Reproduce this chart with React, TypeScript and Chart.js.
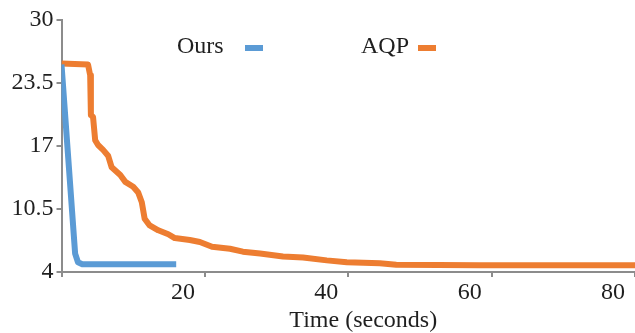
import { useEffect, useRef } from 'react';
import { Chart, registerables } from 'chart.js';

Chart.register(...registerables);

const SERIES_NAMES = ['Ours', 'AQP'];
const SERIES_COLORS = ['#5B9BD5', '#ED7D31'];

const X_TICKS = [0, 20, 40, 60, 80];
const Y_TICKS = [4, 10.5, 17, 23.5, 30];
const X_TITLE = 'Time (seconds)';

const OURS_X = [0, 1.9, 2.3, 2.9, 16.0];
const OURS_Y = [25.4, 5.9, 5.0, 4.8, 4.8];

const AQP_X = [0, 3.7, 4.0, 4.1, 4.4, 4.7, 5.1, 5.8, 6.5, 7.0, 8.2, 8.9, 10.0, 10.7, 11.2, 11.6, 12.3, 13.5, 14.9, 15.8, 17.9, 19.3, 21.0, 23.5, 25.3, 27.7, 30.9, 33.7, 37.0, 39.8, 44.4, 46.7, 58.3, 80];
const AQP_Y = [25.5, 25.4, 24.3, 20.2, 20.0, 17.6, 17.1, 16.6, 16.0, 14.8, 14.0, 13.3, 12.8, 12.2, 11.2, 9.5, 8.8, 8.3, 7.9, 7.5, 7.3, 7.1, 6.6, 6.4, 6.1, 5.9, 5.6, 5.5, 5.2, 5.0, 4.9, 4.75, 4.7, 4.7];

const FONT = '"Liberation Serif", "Times New Roman", serif';
const TEXT_COLOR = '#1f1f1f';
const AXIS_COLOR = '#8c8c8c';

const zip = (xs: number[], ys: number[]) => xs.map((x, i) => ({ x, y: ys[i] }));

const overlayPlugin = {
  id: 'overlay',
  afterDraw(chart: any) {
    const ctx = chart.ctx;
    const area = chart.chartArea;
    ctx.save();
    ctx.font = `24px ${FONT}`;
    ctx.fillStyle = TEXT_COLOR;
    ctx.textBaseline = 'middle';
    ctx.textAlign = 'left';
    const legendY = 47;
    const items = [
      { text: SERIES_NAMES[0], x: 177, mx: 245, color: SERIES_COLORS[0] },
      { text: SERIES_NAMES[1], x: 361, mx: 418, color: SERIES_COLORS[1] },
    ];
    items.forEach((it) => {
      ctx.fillStyle = TEXT_COLOR;
      ctx.fillText(it.text, it.x, legendY);
      ctx.strokeStyle = it.color;
      ctx.lineWidth = 6;
      ctx.beginPath();
      ctx.moveTo(it.mx, legendY + 1);
      ctx.lineTo(it.mx + 18, legendY + 1);
      ctx.stroke();
    });
    ctx.fillStyle = TEXT_COLOR;
    ctx.textAlign = 'center';
    ctx.fillText(X_TITLE, (area.left + area.right) / 2 + 15, 321);
    ctx.restore();
  },
};

export default function App() {
  const ref = useRef<HTMLCanvasElement>(null);
  useEffect(() => {
    Chart.defaults.font.family = FONT;
    const chart = new Chart(ref.current!, {
      type: 'line',
      data: {
        datasets: [
          {
            label: SERIES_NAMES[0],
            data: zip(OURS_X, OURS_Y),
            borderColor: SERIES_COLORS[0],
            backgroundColor: SERIES_COLORS[0],
            borderWidth: 6,
            pointRadius: 0,
            tension: 0,
            borderJoinStyle: 'round',
            borderCapStyle: 'butt',
          },
          {
            label: SERIES_NAMES[1],
            data: zip(AQP_X, AQP_Y),
            borderColor: SERIES_COLORS[1],
            backgroundColor: SERIES_COLORS[1],
            borderWidth: 6,
            pointRadius: 0,
            tension: 0,
            borderJoinStyle: 'round',
            borderCapStyle: 'butt',
          },
        ],
      },
      options: {
        responsive: false,
        animation: false,
        devicePixelRatio: 1,
        layout: { padding: { top: 20, right: 0, left: 0, bottom: 0 } },
        plugins: { legend: { display: false }, tooltip: { enabled: false } },
        scales: {
          x: {
            type: 'linear',
            min: X_TICKS[0],
            max: X_TICKS[X_TICKS.length - 1],
            afterBuildTicks: (s: any) => {
              s.ticks = X_TICKS.map((v) => ({ value: v }));
            },
            afterFit: (s: any) => {
              s.height = 61;
              s.paddingLeft = 0;
              s.paddingRight = 0;
            },
            ticks: {
              callback: (v: any) => (v === 0 ? '' : String(v)),
              labelOffset: -22,
              padding: 1,
              color: TEXT_COLOR,
              font: { size: 24, family: FONT },
              maxRotation: 0,
              autoSkip: false,
            },
            grid: { drawOnChartArea: false, drawTicks: true, tickLength: 5, color: AXIS_COLOR, lineWidth: 2 },
            border: { color: AXIS_COLOR, width: 2 },
          },
          y: {
            type: 'linear',
            min: Y_TICKS[0],
            max: Y_TICKS[Y_TICKS.length - 1],
            afterBuildTicks: (s: any) => {
              s.ticks = Y_TICKS.map((v) => ({ value: v }));
            },
            afterFit: (s: any) => {
              s.width = 61.5;
              s.paddingTop = 0;
              s.paddingBottom = 0;
            },
            ticks: {
              callback: (v: any) => String(v),
              padding: 3,
              color: TEXT_COLOR,
              font: { size: 24, family: FONT },
              autoSkip: false,
            },
            grid: { drawOnChartArea: false, drawTicks: true, tickLength: 5, color: AXIS_COLOR, lineWidth: 2 },
            border: { color: AXIS_COLOR, width: 2 },
          },
        },
      },
      plugins: [overlayPlugin],
    } as any);
    return () => chart.destroy();
  }, []);
  return (
    <div style={{ position: 'fixed', left: 0, top: 0, width: 635, height: 333, background: '#fff' }}>
      <canvas ref={ref} width={635} height={333} style={{ display: 'block' }} />
    </div>
  );
}
